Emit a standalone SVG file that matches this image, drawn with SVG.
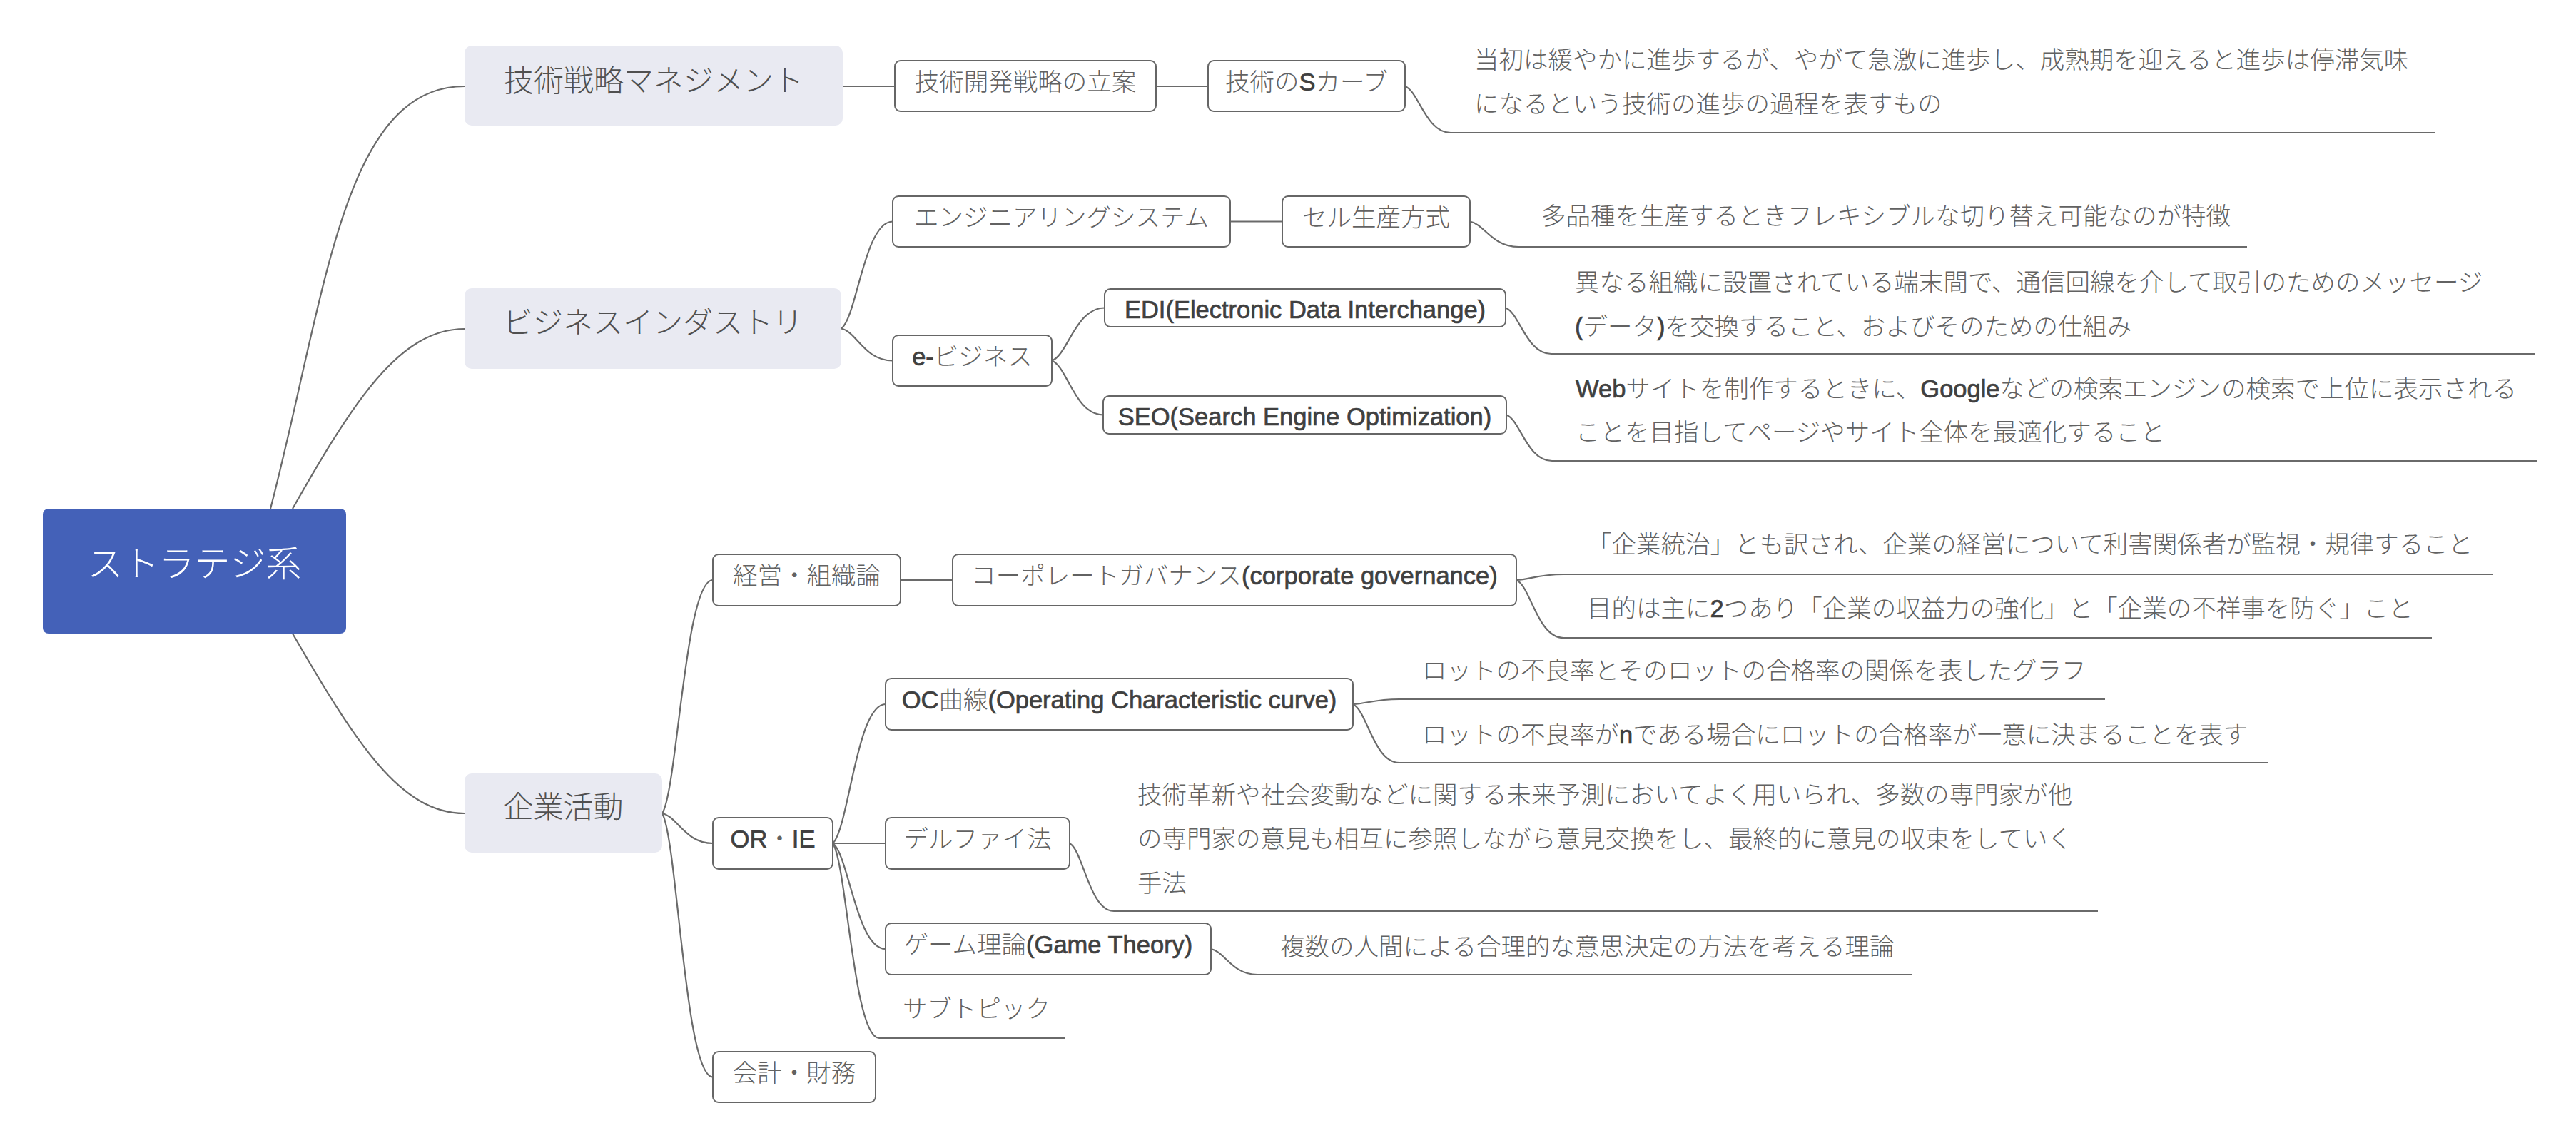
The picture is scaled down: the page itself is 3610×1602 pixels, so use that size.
<svg xmlns="http://www.w3.org/2000/svg" width="3610" height="1602" viewBox="0 0 3610 1602">
  <style>
    .conn { fill: none; stroke: #6a6a6a; stroke-width: 2.2; }
    .box { fill: #ffffff; stroke: #666666; stroke-width: 2; }
    .main { fill: #e9eaf2; }
    .root { fill: #4461b8; }
    .t { font-family: "Liberation Sans", "Noto Sans CJK JP", sans-serif; font-weight: 300; font-size: 34.5px; fill: #626262; }
    .c { text-anchor: middle; }
    .m { font-size: 42px; fill: #505050; }
    .r { font-size: 50px; fill: #ffffff; }
    .l { font-weight: 400; fill: #404040; stroke: #404040; stroke-width: 0.7; }
  </style>
  <rect width="3610" height="1602" fill="#ffffff"/>

  <g id="connectors">
    <path class="conn" d="M379,713 C457,413 480,121 651,121"/>
    <path class="conn" d="M410,713 C495,563 560,461 651,461"/>
    <path class="conn" d="M410,888 C497,1038 560,1140 651,1140"/>

    <path class="conn" d="M1181,121 H1254"/>
    <path class="conn" d="M1620,121 H1693"/>
    <path class="conn" d="M1969,121 C1988,127.5 1998,186 2033,186 H3412"/>

    <path class="conn" d="M1179,460.5 C1200.6,445.5 1211.4,310.5 1251,310.5"/>
    <path class="conn" d="M1179,460.5 C1200.6,465 1211.4,505.5 1251,505.5"/>
    <path class="conn" d="M1724,310.5 H1797"/>
    <path class="conn" d="M2060,310.5 C2080.4,314 2090.6,346 2128,346 H3149"/>
    <path class="conn" d="M1474,505.5 C1496.2,498.1 1507.3,431.5 1548,431.5"/>
    <path class="conn" d="M1474,505.5 C1495.6,513.1 1506.4,581.5 1546,581.5"/>
    <path class="conn" d="M2110,431.5 C2129.2,438 2138.8,496 2174,496 H3553"/>
    <path class="conn" d="M2111,581.5 C2130.2,588 2139.8,646 2175,646 H3556"/>

    <path class="conn" d="M928,1140 C949.3,1107.3 960,813 999,813"/>
    <path class="conn" d="M928,1140 C949.3,1144.2 960,1182 999,1182"/>
    <path class="conn" d="M928,1140 C949.3,1177 960,1509.5 999,1509.5"/>
    <path class="conn" d="M1262,813 H1335"/>
    <path class="conn" d="M2125,813 C2144.8,812.2 2154.7,805 2191,805 H3493"/>
    <path class="conn" d="M2125,813 C2144.8,821.1 2154.7,894 2191,894 H3408"/>

    <path class="conn" d="M1167,1182 C1189.2,1162.5 1200.3,987 1241,987"/>
    <path class="conn" d="M1167,1182 H1241"/>
    <path class="conn" d="M1167,1182 C1189.2,1196.8 1200.3,1330 1241,1330"/>
    <path class="conn" d="M1167,1182 C1186.5,1209.3 1196.3,1455 1232,1455 H1493"/>
    <path class="conn" d="M1896,987 C1915.5,986.3 1925.3,980 1961,980 H2950"/>
    <path class="conn" d="M1896,987 C1915.5,995.2 1925.3,1069 1961,1069 H3178"/>
    <path class="conn" d="M1499,1182 C1517.6,1191.5 1526.9,1277 1561,1277 H2940"/>
    <path class="conn" d="M1697,1330 C1716.5,1333.6 1726.3,1366 1762,1366 H2680"/>
  </g>

  <g id="root">
    <rect class="root" x="60" y="713" width="425" height="175" rx="8"/>
    <text class="t c r" x="272.5" y="808">ストラテジ系</text>
  </g>

  <g id="topic-tech-strategy">
    <rect class="main" x="651" y="64" width="530" height="112" rx="10"/>
    <text class="t c m" x="916" y="128">技術戦略マネジメント</text>
  </g>
  <g id="topic-business-industry">
    <rect class="main" x="651" y="404" width="528" height="113" rx="10"/>
    <text class="t c m" x="915" y="467">ビジネスインダストリ</text>
  </g>
  <g id="topic-corporate">
    <rect class="main" x="651" y="1084" width="277" height="111" rx="10"/>
    <text class="t c m" x="789.5" y="1146">企業活動</text>
  </g>

  <g id="tech-dev-plan">
    <rect class="box" x="1254" y="85" width="366" height="71" rx="8"/>
    <text class="t c" x="1437" y="127">技術開発戦略の立案</text>
  </g>
  <g id="s-curve">
    <rect class="box" x="1693" y="85" width="276" height="71" rx="8"/>
    <text class="t c" x="1831" y="127">技術の<tspan class="l">S</tspan>カーブ</text>
  </g>
  <g id="s-curve-note">
    <text class="t" x="2066" y="96">当初は緩やかに進歩するが、やがて急激に進歩し、成熟期を迎えると進歩は停滞気味</text>
    <text class="t" x="2066" y="158">になるという技術の進歩の過程を表すもの</text>
  </g>

  <g id="engineering-system">
    <rect class="box" x="1251" y="275" width="473" height="71" rx="8"/>
    <text class="t c" x="1487.5" y="317">エンジニアリングシステム</text>
  </g>
  <g id="cell-production">
    <rect class="box" x="1797" y="275" width="263" height="71" rx="8"/>
    <text class="t c" x="1928.5" y="317">セル生産方式</text>
  </g>
  <g id="cell-production-note">
    <text class="t" x="2160" y="315">多品種を生産するときフレキシブルな切り替え可能なのが特徴</text>
  </g>

  <g id="e-business">
    <rect class="box" x="1251" y="470" width="223" height="71" rx="8"/>
    <text class="t c" x="1362.5" y="512"><tspan class="l">e-</tspan>ビジネス</text>
  </g>
  <g id="edi">
    <rect class="box" x="1548" y="405" width="562" height="53" rx="8"/>
    <text class="t c" x="1829" y="446"><tspan class="l">EDI(Electronic Data Interchange)</tspan></text>
  </g>
  <g id="edi-note">
    <text class="t" x="2207" y="408">異なる組織に設置されている端末間で、通信回線を介して取引のためのメッセージ</text>
    <text class="t" x="2207" y="470"><tspan class="l">(</tspan>データ<tspan class="l">)</tspan>を交換すること、およびそのための仕組み</text>
  </g>
  <g id="seo">
    <rect class="box" x="1546" y="555" width="565" height="53" rx="8"/>
    <text class="t c" x="1828.5" y="596"><tspan class="l">SEO(Search Engine Optimization)</tspan></text>
  </g>
  <g id="seo-note">
    <text class="t" x="2208" y="557"><tspan class="l">Web</tspan>サイトを制作するときに、<tspan class="l">Google</tspan>などの検索エンジンの検索で上位に表示される</text>
    <text class="t" x="2208" y="618">ことを目指してページやサイト全体を最適化すること</text>
  </g>

  <g id="management-org">
    <rect class="box" x="999" y="777" width="263" height="72" rx="8"/>
    <text class="t c" x="1130.5" y="819">経営・組織論</text>
  </g>
  <g id="corporate-governance">
    <rect class="box" x="1335" y="777" width="790" height="72" rx="8"/>
    <text class="t c" x="1730" y="819">コーポレートガバナンス<tspan class="l">(corporate governance)</tspan></text>
  </g>
  <g id="corporate-governance-note-1">
    <text class="t" x="2224" y="775">「企業統治」とも訳され、企業の経営について利害関係者が監視・規律すること</text>
  </g>
  <g id="corporate-governance-note-2">
    <text class="t" x="2224" y="865">目的は主に<tspan class="l">2</tspan>つあり「企業の収益力の強化」と「企業の不祥事を防ぐ」こと</text>
  </g>

  <g id="or-ie">
    <rect class="box" x="999" y="1146" width="168" height="72" rx="8"/>
    <text class="t c" x="1083" y="1188"><tspan class="l">OR</tspan>・<tspan class="l">IE</tspan></text>
  </g>
  <g id="oc-curve">
    <rect class="box" x="1241" y="951" width="655" height="72" rx="8"/>
    <text class="t c" x="1568.5" y="993"><tspan class="l">OC</tspan>曲線<tspan class="l">(Operating Characteristic curve)</tspan></text>
  </g>
  <g id="oc-curve-note-1">
    <text class="t" x="1993" y="952">ロットの不良率とそのロットの合格率の関係を表したグラフ</text>
  </g>
  <g id="oc-curve-note-2">
    <text class="t" x="1993" y="1042">ロットの不良率が<tspan class="l">n</tspan>である場合にロットの合格率が一意に決まることを表す</text>
  </g>
  <g id="delphi">
    <rect class="box" x="1241" y="1146" width="258" height="72" rx="8"/>
    <text class="t c" x="1370" y="1188">デルファイ法</text>
  </g>
  <g id="delphi-note">
    <text class="t" x="1594" y="1126">技術革新や社会変動などに関する未来予測においてよく用いられ、多数の専門家が他</text>
    <text class="t" x="1594" y="1188">の専門家の意見も相互に参照しながら意見交換をし、最終的に意見の収束をしていく</text>
    <text class="t" x="1594" y="1250">手法</text>
  </g>
  <g id="game-theory">
    <rect class="box" x="1241" y="1294" width="456" height="72" rx="8"/>
    <text class="t c" x="1469" y="1336">ゲーム理論<tspan class="l">(Game Theory)</tspan></text>
  </g>
  <g id="game-theory-note">
    <text class="t" x="1794" y="1339">複数の人間による合理的な意思決定の方法を考える理論</text>
  </g>
  <g id="subtopic">
    <text class="t" x="1265" y="1426">サブトピック</text>
  </g>
  <g id="accounting-finance">
    <rect class="box" x="999" y="1474" width="228" height="71" rx="8"/>
    <text class="t c" x="1113" y="1516">会計・財務</text>
  </g>
</svg>
